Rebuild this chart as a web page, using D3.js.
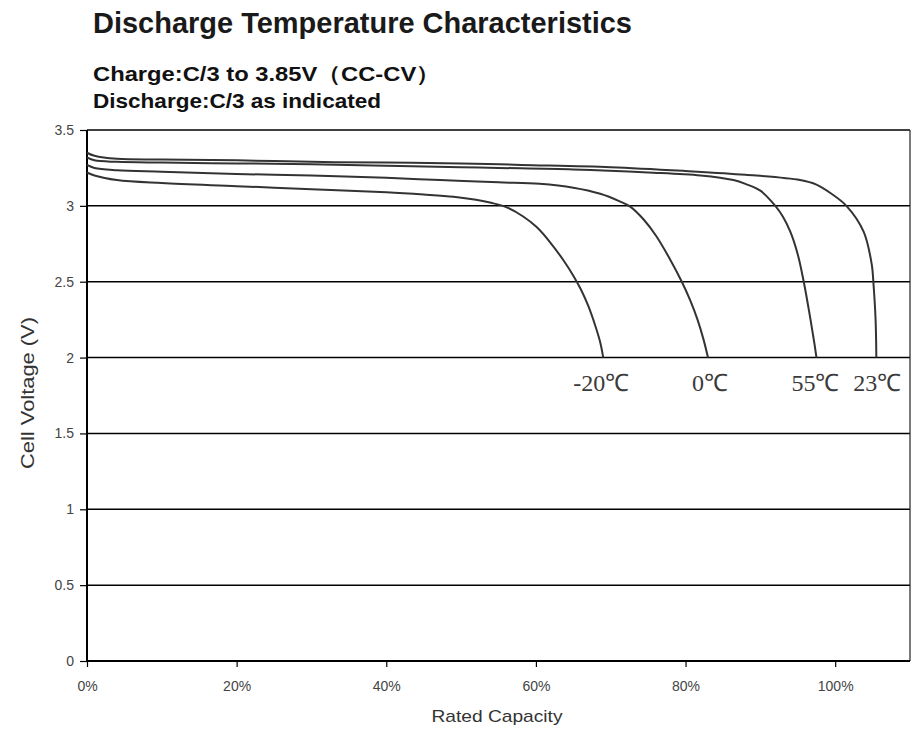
<!DOCTYPE html>
<html><head><meta charset="utf-8">
<script src="https://cdn.jsdelivr.net/npm/d3@7"></script>
<style>body{margin:0;background:#fff}svg{display:block}</style>
</head><body>
<svg id="c" width="912" height="730"></svg>
<script>
const titleText = "Discharge Temperature Characteristics";
const subtitle1 = "Charge:C/3 to 3.85V（CC-CV）";
const subtitle2 = "Discharge:C/3 as indicated";
const xLabel = "Rated Capacity";
const yLabel = "Cell Voltage (V)";
const yTicks = [0, 0.5, 1, 1.5, 2, 2.5, 3, 3.5];
const xTicks = [0, 20, 40, 60, 80, 100];
const seriesNames = ["-20℃", "0℃", "55℃", "23℃"];
const capM20 = [0, 1, 4, 10, 20, 30, 40, 45, 49, 52, 54, 56.1, 58.3, 60.1, 61.9, 63.7, 65.0, 66.0, 67.0, 68.0, 68.6, 69.0];
const voltM20 = [3.22, 3.20, 3.17, 3.15, 3.13, 3.11, 3.09, 3.075, 3.06, 3.04, 3.02, 2.99, 2.93, 2.86, 2.76, 2.64, 2.54, 2.45, 2.34, 2.20, 2.10, 2.0];
const cap0 = [0, 1, 4, 10, 20, 30, 40, 47.2, 55, 60.5, 65, 68.6, 71.2, 72.6, 74.4, 76.1, 77.9, 79.5, 80.6, 81.6, 82.4, 83.0];
const volt0 = [3.27, 3.25, 3.235, 3.225, 3.21, 3.20, 3.185, 3.17, 3.155, 3.145, 3.12, 3.08, 3.03, 2.995, 2.91, 2.80, 2.65, 2.50, 2.38, 2.25, 2.12, 2.0];
const cap55 = [0, 1, 4, 10, 20, 30, 40, 50, 55, 65, 75, 82, 86.4, 88, 90, 92, 93, 94, 95, 95.8, 96.6, 97.2, 97.5];
const volt55 = [3.32, 3.30, 3.29, 3.285, 3.28, 3.275, 3.265, 3.255, 3.25, 3.24, 3.22, 3.20, 3.17, 3.145, 3.10, 3.0, 2.93, 2.83, 2.68, 2.50, 2.28, 2.10, 2.0];
const cap23 = [0, 1, 4, 10, 20, 30, 40, 50, 58, 70, 80, 88, 95.3, 97.5, 99.5, 101.5, 103.8, 104.9, 105.1, 105.4, 105.5];
const volt23 = [3.35, 3.33, 3.31, 3.305, 3.30, 3.29, 3.285, 3.28, 3.27, 3.255, 3.23, 3.205, 3.17, 3.14, 3.08, 3.0, 2.83, 2.61, 2.50, 2.25, 2.0];

const caps = [capM20, cap0, cap55, cap23];
const volts = [voltM20, volt0, volt55, volt23];

const svg = d3.select("#c");
const L = 87, R = 910, T = 130, B = 661;
const x = d3.scaleLinear().domain([0, 110]).range([L, R]);
const y = d3.scaleLinear().domain([0, 3.5]).range([B, T]);
const sans = "Liberation Sans, Arial, sans-serif";

// titles
svg.append("text").attr("x", 93).attr("y", 33).attr("font-family", sans)
  .attr("font-weight", "bold").attr("font-size", 30).attr("fill", "#1a1a1a")
  .attr("textLength", 539).attr("lengthAdjust", "spacingAndGlyphs").text(titleText);
svg.append("text").attr("x", 93).attr("y", 81).attr("font-family", sans)
  .attr("font-weight", "bold").attr("font-size", 21).attr("fill", "#111")
  .attr("textLength", 347).attr("lengthAdjust", "spacingAndGlyphs").text(subtitle1);
svg.append("text").attr("x", 93).attr("y", 108).attr("font-family", sans)
  .attr("font-weight", "bold").attr("font-size", 21).attr("fill", "#111")
  .attr("textLength", 288).attr("lengthAdjust", "spacingAndGlyphs").text(subtitle2);

// grid
svg.append("g").selectAll("line").data(yTicks.filter(d => d > 0)).join("line")
  .attr("x1", L).attr("x2", R).attr("y1", d => y(d)).attr("y2", d => y(d))
  .attr("stroke", "#000").attr("stroke-width", 1.5);
svg.append("line").attr("x1", R).attr("x2", R).attr("y1", T).attr("y2", B)
  .attr("stroke", "#222").attr("stroke-width", 1.2);

// axes
const yAxis = svg.append("g").attr("transform", `translate(${L},0)`)
  .call(d3.axisLeft(y).tickValues(yTicks).tickFormat(d => String(d)).tickSize(7).tickPadding(6));
const xAxis = svg.append("g").attr("transform", `translate(0,${B})`)
  .call(d3.axisBottom(x).tickValues(xTicks).tickFormat(d => d + "%").tickSize(6).tickPadding(14));
[yAxis, xAxis].forEach(g => {
  g.select(".domain").attr("stroke", "#000").attr("stroke-width", 2);
  g.selectAll(".tick line").attr("stroke", "#000").attr("stroke-width", 1.2);
  g.selectAll(".tick text").attr("font-family", sans)
    .attr("font-size", 14).attr("fill", "#444");
});
xAxis.select(".domain").attr("d", `M${L},0H${R}`);
yAxis.select(".domain").attr("d", `M0,${T}V${B}`);

// axis titles
svg.append("text").attr("x", 497).attr("y", 722).attr("text-anchor", "middle")
  .attr("font-family", sans).attr("font-size", 17).attr("fill", "#333")
  .attr("textLength", 131).attr("lengthAdjust", "spacingAndGlyphs").text(xLabel);
svg.append("text").attr("transform", "translate(34,393) rotate(-90)").attr("text-anchor", "middle")
  .attr("font-family", sans).attr("font-size", 18).attr("fill", "#333")
  .attr("textLength", 152).attr("lengthAdjust", "spacingAndGlyphs").text(yLabel);

// curves
const line = d3.line().x(d => x(d[0])).y(d => y(d[1])).curve(d3.curveCatmullRom.alpha(0.5));
caps.forEach((c, i) => {
  const pts = c.map((v, j) => [v, volts[i][j]]);
  svg.append("path").attr("d", line(pts)).attr("fill", "none")
    .attr("stroke", "#333").attr("stroke-width", 2);
});

// labels
const labelDx = [-2, 2, -1, 1];
seriesNames.forEach((n, i) => {
  const c = caps[i];
  svg.append("text").attr("x", x(c[c.length - 1]) + labelDx[i]).attr("y", y(2) + 33)
    .attr("text-anchor", "middle").attr("font-family", "Liberation Serif, serif")
    .attr("font-size", 24).attr("fill", "#3a3a3a")
    .text(n);
});
</script>
</body></html>
